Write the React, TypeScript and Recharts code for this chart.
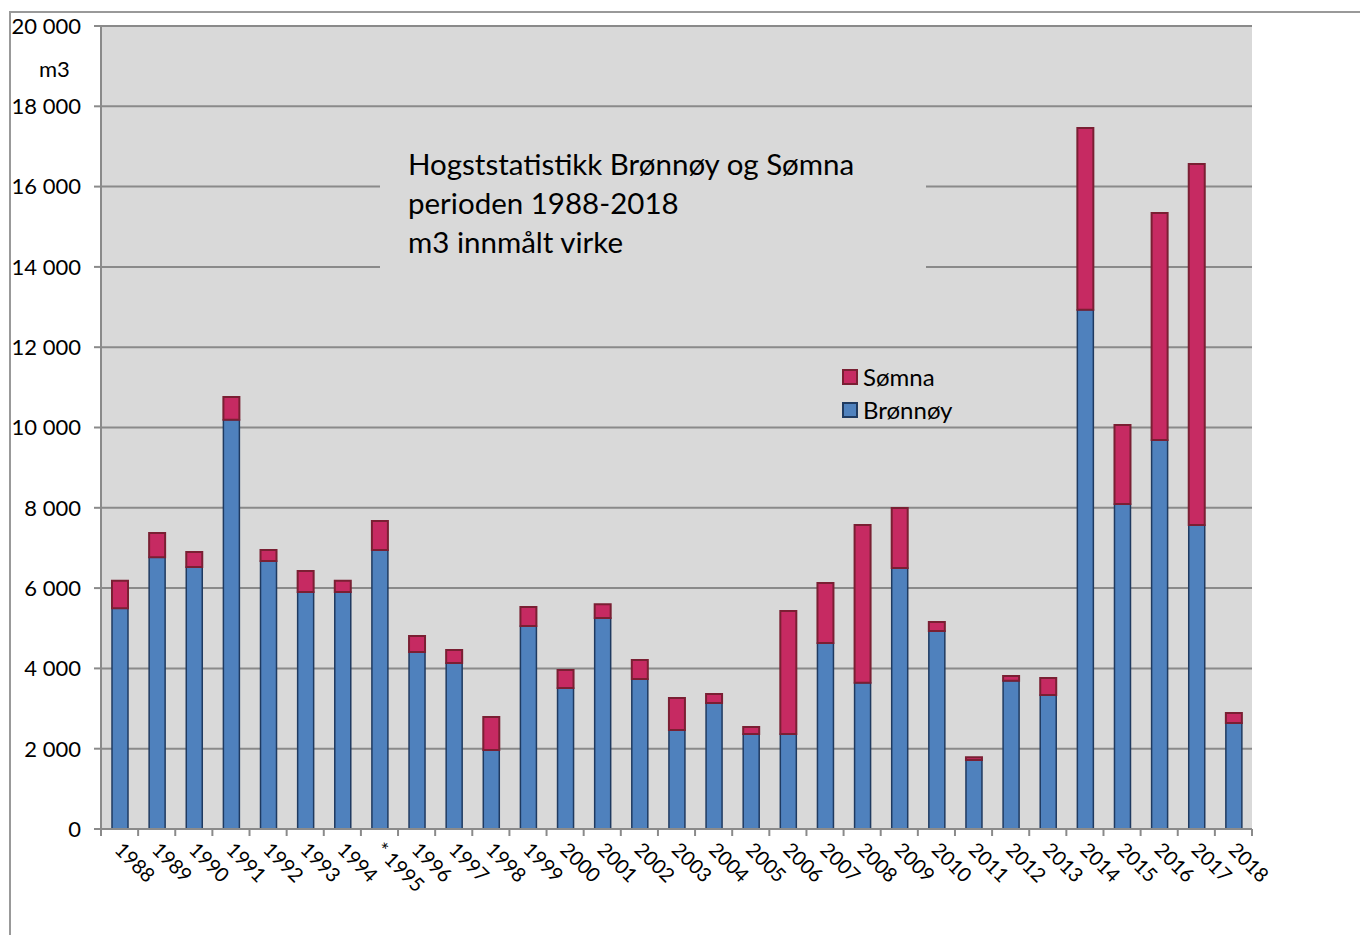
import React from 'react'
import { BarChart, Bar, XAxis, YAxis, CartesianGrid } from 'recharts'

const years = [
  '1988', '1989', '1990', '1991', '1992', '1993', '1994', '* 1995', '1996', '1997',
  '1998', '1999', '2000', '2001', '2002', '2003', '2004', '2005', '2006', '2007',
  '2008', '2009', '2010', '2011', '2012', '2013', '2014', '2015', '2016', '2017', '2018',
]

const bronnoy = [
  5500, 6770, 6525, 10190, 6675, 5900, 5900, 6950, 4410, 4135,
  1970, 5055, 3510, 5255, 3735, 2465, 3140, 2365, 2365, 4630,
  3640, 6500, 4930, 1720, 3690, 3340, 12930, 8095, 9690, 7570, 2640,
]

const somna = [
  680, 600, 375, 570, 275, 525, 280, 720, 400, 325,
  820, 475, 450, 345, 475, 795, 220, 175, 3065, 1500,
  3930, 1495, 225, 70, 120, 420, 4530, 1965, 5650, 8990, 250,
]

const yTicks = [0, 2000, 4000, 6000, 8000, 10000, 12000, 14000, 16000, 18000, 20000]

const titleLines = ['Hogststatistikk Brønnøy og Sømna', 'perioden 1988-2018', 'm3 innmålt virke']

const data = years.map((year, i) => ({ year, bronnoy: bronnoy[i], somna: somna[i] }))

const FONT = 'Lato, "Open Sans", sans-serif'
const GRID = '#8a8a8a'
const PLOT_LEFT = 101
const PLOT_RIGHT = 1252
const PLOT_BOTTOM = 829
const BAND = (PLOT_RIGHT - PLOT_LEFT) / years.length

const fmt = (v: number) => (v === 0 ? '0' : `${Math.floor(v / 1000)} ${String(v % 1000).padStart(3, '0')}`)

function YearTick(props: any) {
  const { x, payload, index } = props
  const half = BAND / 2
  const tx = x - 6
  const ty = PLOT_BOTTOM + 22
  return (
    <g>
      <line x1={x - half} y1={PLOT_BOTTOM} x2={x - half} y2={PLOT_BOTTOM + 7} stroke={GRID} strokeWidth={2} />
      {index === years.length - 1 && (
        <line x1={x + half} y1={PLOT_BOTTOM} x2={x + half} y2={PLOT_BOTTOM + 7} stroke={GRID} strokeWidth={2} />
      )}
      <text
        x={tx}
        y={ty}
        transform={`rotate(45 ${tx} ${ty})`}
        fontSize={20}
        fontFamily={FONT}
        fill="#000"
        textAnchor="start"
      >
        {payload.value}
      </text>
    </g>
  )
}

function LegendBox() {
  const items = [
    { name: 'Sømna', fill: '#c62a62', stroke: '#7a1f33' },
    { name: 'Brønnøy', fill: '#4f81bd', stroke: '#1f3a60' },
  ]
  return (
    <div style={{ fontFamily: FONT, fontSize: 24, color: '#000' }}>
      {items.map((it) => (
        <div key={it.name} style={{ display: 'flex', alignItems: 'center', height: 33 }}>
          <span
            style={{
              display: 'inline-block',
              width: 12,
              height: 12,
              background: it.fill,
              border: `2px solid ${it.stroke}`,
              marginRight: 5,
            }}
          />
          {it.name}
        </div>
      ))}
    </div>
  )
}

export default function App() {
  return (
    <div style={{ position: 'fixed', left: 0, top: 0, width: 1360, height: 935, background: '#fff', overflow: 'hidden' }}>
      <div
        style={{
          position: 'absolute',
          left: 9,
          top: 11,
          width: 1400,
          height: 1000,
          borderTop: '2px solid #999',
          borderLeft: '2px solid #999',
        }}
      />
      <div style={{ position: 'absolute', left: 0, top: 0 }}>
        <BarChart
          width={1360}
          height={935}
          data={data}
          margin={{ top: 26, right: 1360 - PLOT_RIGHT, bottom: 6, left: 11 }}
        >
          <CartesianGrid vertical={false} fill="#d9d9d9" stroke={GRID} strokeWidth={2} />
          <XAxis
            dataKey="year"
            height={100}
            interval={0}
            tickLine={false}
            axisLine={{ stroke: GRID, strokeWidth: 2 }}
            tick={<YearTick />}
          />
          <YAxis
            width={90}
            domain={[0, 20000]}
            ticks={yTicks}
            interval={0}
            tickFormatter={fmt}
            tickSize={7}
            tickMargin={13}
            tickLine={{ stroke: GRID, strokeWidth: 2 }}
            axisLine={{ stroke: GRID, strokeWidth: 2 }}
            tick={{ fontSize: 22, fontFamily: FONT, fill: '#000' }}
          />
          <Bar
            dataKey="bronnoy"
            name="Brønnøy"
            stackId="a"
            fill="#4f81bd"
            stroke="#1f3a60"
            strokeWidth={1.5}
            barSize={16}
            isAnimationActive={false}
          />
          <Bar
            dataKey="somna"
            name="Sømna"
            stackId="a"
            fill="#c62a62"
            stroke="#7a1f33"
            strokeWidth={2}
            barSize={16}
            isAnimationActive={false}
          />
        </BarChart>
      </div>
      <div style={{ position: 'absolute', left: 842, top: 360 }}>
        <LegendBox />
      </div>
      <div
        style={{
          position: 'absolute',
          left: 380,
          top: 138,
          width: 546,
          height: 136,
          background: '#d9d9d9',
        }}
      />
      <div
        style={{
          position: 'absolute',
          left: 408,
          top: 144,
          fontFamily: FONT,
          fontSize: 29.5,
          lineHeight: '39px',
          color: '#000',
          whiteSpace: 'nowrap',
        }}
      >
        {titleLines.map((t) => (
          <div key={t}>{t}</div>
        ))}
      </div>
      <div
        style={{
          position: 'absolute',
          left: 39,
          top: 55,
          fontFamily: FONT,
          fontSize: 22,
          color: '#000',
        }}
      >
        m3
      </div>
    </div>
  )
}
